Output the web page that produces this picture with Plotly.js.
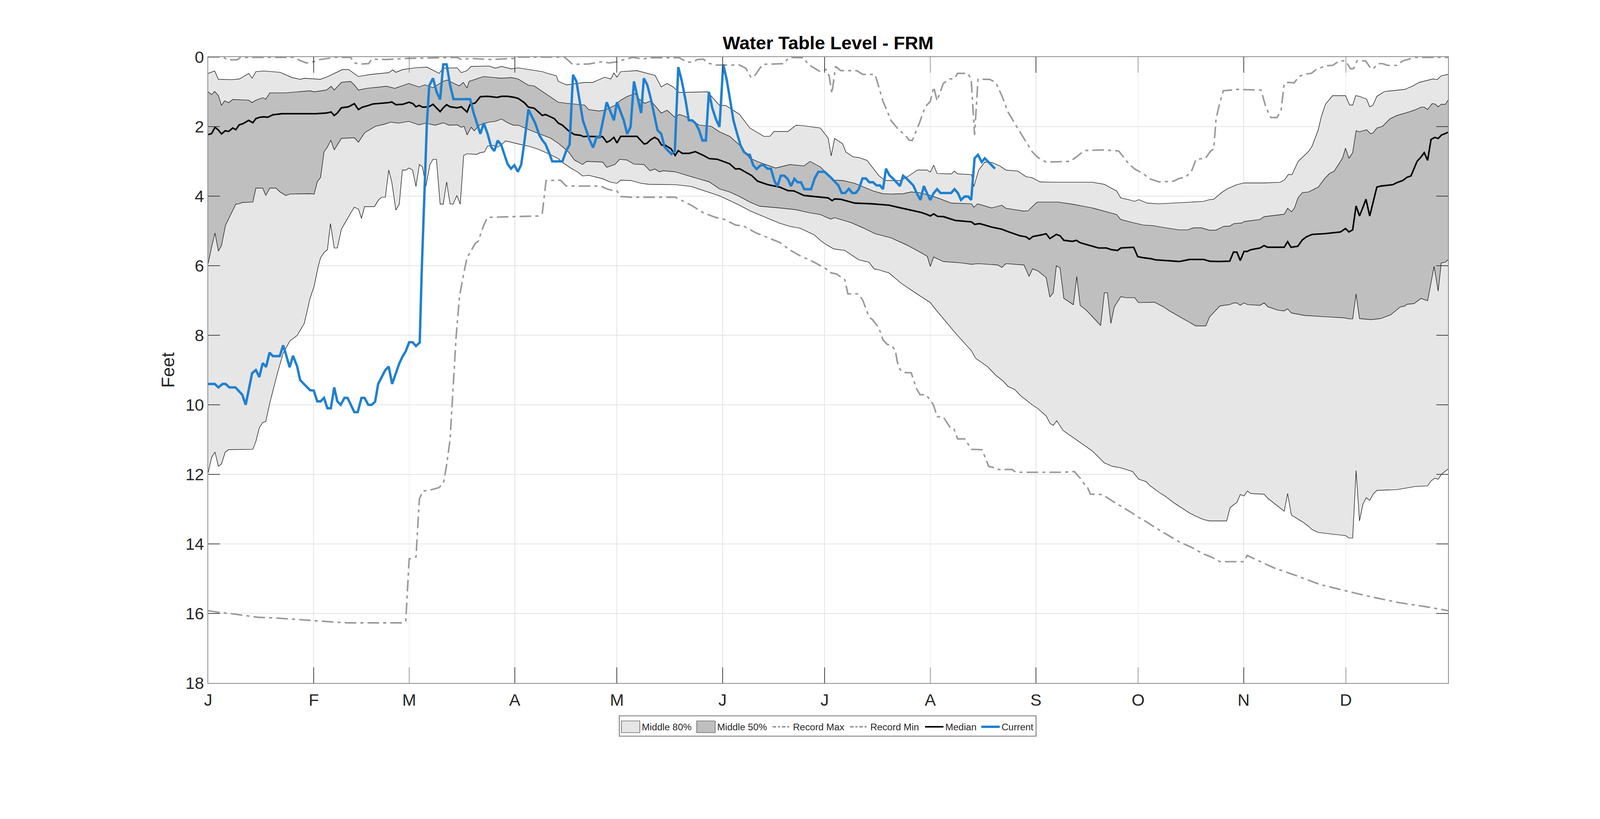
<!DOCTYPE html>
<html>
<head>
<meta charset="utf-8">
<script src="https://cdn.plot.ly/plotly-3.0.1.min.js"></script>
<style>
  html, body { margin: 0; padding: 0; background: #fff; overflow: hidden; }
</style>
</head>
<body>
<div id="chart"></div>
<script>
// x = day of year (0 = Jan 1), y = depth to water table in feet
const monthTicks = [0, 31, 59, 90, 120, 151, 181, 212, 243, 273, 304, 334];
const monthLabels = ['J', 'F', 'M', 'A', 'M', 'J', 'J', 'A', 'S', 'O', 'N', 'D'];
const feetTicks = [0, 2, 4, 6, 8, 10, 12, 14, 16, 18];

// 10th percentile (top of Middle 80%)
const p10 = [[0,0.47],[1.9,0.40],[3.0,0.64],[6.9,0.65],[9.2,0.63],[11.9,0.47],[12.9,0.61],[14.0,0.42],[16.3,0.40],[21.1,0.44],
  [24.6,0.59],[27.0,0.64],[28.2,0.61],[32.9,0.64],[34.7,0.58],[37.0,0.47],[39.4,0.36],[41.2,0.36],[44.1,0.56],[47.7,0.50],
  [53.0,0.45],[54.2,0.37],[55.1,0.44],[57.1,0.36],[60.7,0.31],[64.2,0.29],[67.8,0.47],[69.0,0.32],[73.1,0.31],[74.3,0.45],
  [76.0,0.39],[77.2,0.27],[82.5,0.26],[84.3,0.32],[86.1,0.27],[89.0,0.34],[91.0,0.31],[98.1,0.42],[99.3,0.46],[102.2,0.54],
  [102.8,0.70],[105.2,0.80],[110.5,0.73],[112.9,0.73],[116.4,0.58],[118.2,0.63],[119.1,0.46],[120.0,0.58],[121.1,0.42],[125.9,0.39],
  [131.2,0.53],[133.0,0.86],[134.7,0.76],[136.5,0.86],[138.3,1.02],[146.6,1.00],[150.1,1.39],[151.9,1.39],[156.0,1.65],[159.0,2.04],
  [163.1,2.28],[164.9,2.28],[166.1,2.14],[170.2,2.14],[172.6,1.96],[174.3,1.97],[179.7,2.04],[182.0,2.33],[182.9,2.84],[183.9,2.34],
  [186.3,2.50],[187.2,2.73],[189.3,2.87],[191.0,2.89],[193.4,2.97],[196.9,3.41],[198.7,3.55],[203.4,3.55],[205.8,3.41],[208.2,3.25],
  [211.1,3.25],[212.0,3.31],[213.0,3.11],[214.0,3.35],[218.2,3.36],[219.1,3.28],[220.0,3.36],[224.1,3.38],[224.8,3.72],[226.2,3.25],
  [228.0,3.02],[230.0,3.03],[232.4,3.13],[234.2,3.25],[237.7,3.28],[240.1,3.44],[241.9,3.47],[244.2,3.59],[247.8,3.60],[259.6,3.60],
  [263.1,3.66],[265.5,3.79],[266.7,3.85],[267.9,4.05],[270.2,4.10],[272.0,4.15],[273.2,4.10],[275.7,4.20],[279.2,4.22],[285.1,4.19],
  [292.2,4.15],[294.0,4.10],[295.2,4.09],[297.5,3.90],[299.0,3.80],[302.0,3.67],[304.1,3.62],[310.0,3.62],[314.7,3.60],[315.9,3.54],
  [317.1,3.38],[318.2,3.38],[320.0,3.00],[323.0,2.72],[324.1,2.56],[325.9,2.09],[326.8,1.71],[328.0,1.36],[330.1,1.11],[333.9,1.11],
  [335.1,1.38],[336.0,1.38],[336.9,1.11],[338.0,1.13],[340.1,1.21],[341.0,1.43],[341.9,1.39],[343.1,1.13],[345.4,0.99],[351.3,0.93],
  [353.7,0.83],[355.5,0.73],[359.6,0.63],[360.8,0.65],[362.0,0.54],[364,0.50]];

// 90th percentile (bottom of Middle 80%)
const p90 = [[0,11.95],[1.0,11.51],[2.0,11.36],[3.0,11.77],[3.9,11.70],[5.0,11.36],[6.0,11.29],[13.1,11.28],[14.0,11.05],[15.0,10.66],
  [16.0,10.51],[16.9,10.48],[18.1,9.94],[19.3,9.47],[20.5,9.03],[22.0,8.52],[24.0,8.16],[26.1,8.01],[28.2,7.66],[29.9,6.94],
  [31.1,6.59],[32.3,6.02],[33.0,5.77],[34.1,5.61],[35.0,5.54],[35.9,4.79],[37.0,5.49],[37.9,5.49],[39.1,4.95],[41.8,4.49],
  [42.9,4.32],[44.1,4.37],[45.0,4.64],[45.9,4.30],[48.8,4.30],[50.0,4.11],[50.9,4.03],[52.0,4.03],[53.0,3.25],[53.9,3.60],
  [55.1,4.40],[56.1,4.23],[57.0,3.25],[58.0,3.25],[59.0,3.19],[60.0,3.25],[61.0,3.72],[62.0,3.09],[62.9,3.16],[63.9,3.72],
  [65.1,3.09],[66.0,2.94],[67.0,2.94],[68.1,4.23],[69.0,4.23],[70.0,3.59],[71.0,4.22],[71.9,4.23],[73.0,3.98],[74.0,4.23],
  [75.0,2.83],[76.0,2.78],[78.7,2.80],[79.9,2.75],[81.1,2.73],[82.0,2.56],[83.7,2.54],[84.9,2.59],[86.1,2.52],[87.3,2.41],
  [90.2,2.48],[91.9,2.52],[94.0,2.56],[96.9,2.65],[99.9,2.78],[102.8,2.92],[104.0,3.03],[106.4,3.19],[108.7,3.32],[109.9,3.42],
  [111.7,3.40],[115.8,3.50],[118.2,3.60],[120.0,3.63],[121.1,3.54],[124.1,3.55],[127.1,3.63],[129.4,3.66],[137.1,3.67],[141.8,3.72],
  [150.1,3.99],[156.0,4.26],[159.0,4.42],[163.1,4.59],[167.8,4.78],[170.8,4.87],[173.7,4.92],[176.1,5.03],[177.9,5.11],[179.7,5.27],
  [181.4,5.39],[183.7,5.52],[186.9,5.56],[191.0,5.83],[194.0,5.90],[195.5,6.09],[196.9,6.12],[199.9,6.21],[203.4,6.50],[207.6,6.78],
  [212.0,7.06],[213.5,7.25],[217.0,7.66],[219.4,7.94],[224.1,8.45],[225.3,8.66],[228.9,8.91],[231.2,9.15],[233.3,9.31],[234.8,9.47],
  [236.8,9.56],[238.3,9.72],[241.9,10.00],[243.6,10.11],[246.0,10.32],[247.2,10.54],[248.1,10.59],[249.1,10.46],[251.0,10.74],[254.9,11.01],
  [257.2,11.16],[259.6,11.33],[263.1,11.67],[265.5,11.77],[267.9,11.81],[271.4,11.92],[273.2,12.14],[275.4,12.21],[276.3,12.31],[279.2,12.52],
  [281.0,12.63],[283.4,12.81],[288.1,13.11],[289.9,13.20],[292.2,13.30],[294.0,13.34],[299.0,13.34],[300.0,12.96],[301.1,12.87],[302.0,12.81],
  [303.0,12.58],[304.1,12.62],[305.1,12.48],[306.1,12.55],[310.0,12.57],[311.1,12.69],[315.9,13.06],[316.9,12.55],[318.0,13.17],[321.2,13.36],
  [323.0,13.49],[324.1,13.59],[325.9,13.67],[328.3,13.70],[330.1,13.72],[333.9,13.76],[334.9,13.83],[336.0,13.83],[337.0,11.89],[338.0,13.34],
  [339.0,12.86],[340.0,12.67],[341.0,12.75],[342.0,12.57],[343.1,12.46],[349.0,12.44],[354.3,12.35],[358.0,12.33],[359.0,12.19],[360.1,12.11],
  [361.1,12.14],[362.1,11.99],[364,11.85]];

// 25th percentile (top of Middle 50%)
const p25 = [[0,1.00],[1.0,1.08],[1.9,0.99],[3.0,1.11],[3.9,1.39],[4.8,1.26],[6.0,1.31],[7.2,1.22],[11.9,1.24],[12.9,1.31],
  [14.0,1.24],[16.0,1.17],[16.9,1.21],[18.1,1.03],[22.8,1.03],[29.9,0.97],[31.1,1.00],[34.7,0.95],[36.1,0.84],[37.0,0.95],
  [39.1,0.73],[41.8,0.70],[42.9,0.80],[44.1,0.95],[46.5,0.90],[52.4,0.84],[54.8,0.90],[58.9,0.76],[61.9,0.86],[63.6,0.80],
  [66.0,0.88],[69.0,0.70],[70.1,0.66],[73.7,0.83],[74.9,0.73],[76.0,0.89],[76.6,0.70],[80.8,0.56],[86.1,0.61],[89.0,0.59],
  [91.0,0.63],[94.0,0.81],[95.7,0.83],[98.1,0.99],[100.5,1.14],[102.8,1.30],[105.2,1.33],[108.7,1.36],[110.5,1.38],[111.7,1.51],
  [114.6,1.55],[116.4,1.53],[119.4,1.39],[121.1,1.24],[122.9,1.14],[125.3,1.05],[126.5,1.21],[128.2,1.33],[130.0,1.26],[133.0,1.61],
  [134.7,1.53],[137.1,1.74],[138.3,1.65],[140.1,1.71],[144.2,1.96],[147.7,1.99],[150.1,2.15],[153.1,2.28],[156.0,2.53],[159.0,2.91],
  [161.9,3.03],[166.6,3.19],[170.8,3.09],[174.9,3.13],[176.7,3.00],[179.7,3.16],[182.75,3.45],[183.9,3.54],[186.3,3.55],[189.8,3.63],
  [195.2,3.85],[198.1,3.93],[200.5,3.94],[204.0,3.93],[206.4,3.88],[208.8,3.90],[212.0,3.98],[214.7,4.07],[218.2,4.20],[224.1,4.22],
  [224.8,4.32],[225.9,4.22],[228.3,4.29],[230.0,4.34],[233.0,4.26],[234.2,4.35],[239.5,4.43],[240.7,4.42],[243.0,4.20],[243.6,4.17],
  [249.5,4.17],[253.7,4.23],[259.6,4.34],[266.7,4.53],[267.9,4.67],[271.4,4.76],[274.5,4.83],[277.5,4.85],[280.4,4.90],[285.1,4.97],
  [287.5,4.97],[289.3,4.91],[291.6,4.91],[294.0,4.98],[295.8,4.98],[298.1,4.87],[299.9,4.86],[301.1,4.79],[303.5,4.77],[304.1,4.73],
  [308.8,4.67],[310.0,4.59],[315.9,4.52],[316.9,4.35],[318.1,4.45],[318.9,4.34],[320.0,4.04],[321.2,3.90],[323.0,3.88],[325.9,3.74],
  [327.7,3.50],[329.2,3.35],[330.6,3.28],[333.0,2.91],[333.9,2.62],[334.9,2.91],[336.0,2.75],[337.0,2.12],[338.0,2.15],[340.1,2.09],
  [341.2,2.20],[341.9,2.19],[343.1,2.04],[344.8,1.99],[346.9,1.78],[349.0,1.68],[352.5,1.58],[354.3,1.52],[356.1,1.44],[357.0,1.44],
  [358.0,1.51],[359.3,1.34],[360.2,1.35],[361.1,1.43],[362.0,1.36],[363.2,1.36],[364,1.24]];

// 75th percentile (bottom of Middle 50%)
const p75 = [[0,5.93],[1.0,5.46],[2.0,5.06],[3.0,5.58],[3.9,5.42],[5.1,4.83],[8.1,4.23],[9.0,4.22],[10.1,4.18],[13.1,4.17],
  [14.0,3.77],[16.0,3.77],[16.9,3.98],[18.1,3.77],[19.9,3.77],[21.1,3.88],[22.8,3.98],[24.0,3.94],[29.9,3.93],[31.1,3.94],
  [32.0,3.59],[33.0,3.46],[34.0,2.73],[35.0,2.59],[36.0,2.39],[37.0,2.67],[39.1,2.34],[42.9,2.32],[44.1,2.45],[45.9,2.18],
  [49.1,1.99],[51.8,1.93],[53.6,1.87],[55.9,1.90],[58.9,1.85],[61.9,1.95],[63.9,1.90],[66.6,1.96],[69.0,1.89],[70.7,1.96],
  [73.1,1.95],[74.3,2.02],[75.1,1.99],[76.0,2.24],[77.2,2.02],[78.1,2.12],[79.6,1.96],[82.5,1.87],[84.3,1.85],[86.1,1.78],
  [87.9,1.89],[89.6,1.96],[91.0,1.96],[95.7,2.15],[100.5,2.33],[102.8,2.48],[105.8,2.73],[107.5,2.96],[109.9,3.09],[111.1,3.00],
  [115.8,3.02],[117.0,3.17],[119.4,3.09],[120.8,2.94],[122.9,2.96],[125.0,3.08],[127.9,3.09],[129.7,3.27],[131.2,3.22],[132.4,3.30],
  [133.6,3.27],[137.1,3.30],[141.8,3.44],[147.1,3.59],[150.1,3.79],[153.1,3.88],[156.0,4.01],[159.0,4.17],[161.9,4.29],[167.8,4.34],
  [172.6,4.39],[176.1,4.47],[179.7,4.53],[182.75,4.66],[183.9,4.62],[188.7,4.76],[192.2,4.91],[195.8,5.08],[200.5,5.20],[205.2,5.41],
  [208.8,5.60],[211.1,5.73],[212.0,6.02],[213.0,5.75],[215.8,5.88],[221.2,5.92],[224.1,5.96],[225.9,5.94],[231.8,5.98],[233.0,6.05],
  [234.2,5.94],[239.5,5.98],[241.0,6.31],[242.0,6.09],[243.6,6.15],[246.0,6.34],[247.1,6.90],[248.1,6.78],[249.0,6.00],[250.1,6.07],
  [251.2,6.94],[254.0,7.12],[255.0,6.31],[256.0,7.14],[257.8,7.28],[260.2,7.53],[262.0,7.72],[263.1,6.78],[264.0,6.78],[265.0,7.66],
  [266.0,7.19],[267.9,6.89],[269.6,6.92],[272.0,6.92],[273.1,7.06],[277.8,7.05],[280.4,7.18],[282.2,7.30],[287.5,7.60],[289.9,7.73],
  [292.9,7.73],[294.0,7.47],[297.0,7.16],[298.1,7.14],[299.9,7.12],[301.1,7.07],[302.0,7.07],[303.0,7.14],[304.1,7.07],[305.2,7.12],
  [308.8,7.14],[310.0,7.07],[311.1,7.18],[314.1,7.28],[315.9,7.30],[316.9,7.24],[318.0,7.36],[321.8,7.43],[328.3,7.47],[333.6,7.50],
  [335.1,7.53],[336.0,7.53],[337.0,6.81],[338.0,7.52],[341.3,7.55],[344.2,7.52],[347.2,7.41],[348.4,7.31],[349.9,7.19],[351.3,7.16],
  [351.9,7.11],[354.0,7.09],[356.1,6.94],[358.0,7.01],[359.9,6.02],[361.1,6.73],[362.0,5.92],[363.2,5.90],[364,5.83]];

const median = [[0,2.23],[1.0,2.20],[2.0,2.02],[3.0,2.10],[3.9,2.21],[5.0,2.12],[6.0,2.14],[7.2,2.04],[8.1,2.09],[9.1,1.95],
  [10.1,1.92],[11.9,1.82],[13.1,1.89],[14.0,1.77],[15.2,1.73],[16.3,1.72],[17.5,1.73],[19.0,1.66],[21.7,1.63],[25.8,1.63],
  [31.7,1.63],[34.7,1.61],[36.1,1.58],[37.0,1.68],[37.9,1.61],[39.1,1.46],[41.2,1.43],[42.9,1.34],[44.1,1.51],[45.3,1.44],
  [46.5,1.41],[48.3,1.35],[50.6,1.33],[53.0,1.31],[53.9,1.29],[55.1,1.37],[57.1,1.36],[59.0,1.30],[60.1,1.34],[61.0,1.43],
  [61.9,1.39],[63.0,1.44],[64.8,1.43],[66.0,1.36],[68.1,1.57],[69.0,1.46],[70.0,1.37],[71.0,1.43],[73.1,1.46],[74.3,1.43],
  [76.0,1.58],[76.9,1.36],[78.4,1.32],[79.9,1.14],[82.0,1.13],[84.9,1.16],[86.1,1.13],[87.9,1.13],[89.9,1.16],[91.0,1.19],
  [92.8,1.31],[94.0,1.44],[95.7,1.47],[98.1,1.68],[99.0,1.65],[101.6,1.77],[102.8,1.90],[104.0,1.96],[105.8,2.12],[107.5,2.23],
  [109.3,2.25],[110.2,2.29],[111.1,2.28],[115.8,2.29],[117.0,2.45],[117.9,2.41],[119.1,2.31],[120.0,2.47],[121.1,2.28],[125.9,2.28],
  [127.1,2.41],[128.0,2.50],[128.8,2.48],[130.0,2.37],[131.1,2.31],[132.1,2.37],[133.1,2.53],[134.1,2.53],[135.9,2.64],[137.1,2.83],
  [138.0,2.69],[139.2,2.77],[141.2,2.77],[143.0,2.72],[145.4,2.83],[147.1,2.92],[149.5,2.94],[151.3,3.00],[153.1,3.07],[154.8,3.22],
  [156.0,3.21],[159.6,3.41],[161.3,3.57],[164.3,3.67],[167.8,3.74],[170.2,3.84],[172.0,3.85],[174.9,3.98],[176.1,3.99],[179.7,4.03],
  [182.0,4.05],[183.2,4.13],[183.9,4.08],[185.7,4.09],[189.8,4.20],[194.6,4.22],[199.9,4.26],[203.4,4.34],[206.4,4.40],[209.4,4.47],
  [211.1,4.53],[212.0,4.57],[213.0,4.51],[214.1,4.58],[215.9,4.59],[219.4,4.70],[224.1,4.74],[225.0,4.81],[226.5,4.79],[230.0,4.89],
  [233.0,4.95],[234.8,5.02],[238.3,5.14],[240.1,5.17],[241.1,5.24],[242.1,5.16],[244.8,5.11],[246.0,5.08],[247.1,5.22],[249.0,5.10],
  [250.1,5.14],[251.2,5.27],[253.7,5.30],[254.9,5.27],[256.0,5.34],[259.0,5.42],[261.4,5.49],[263.7,5.49],[265.2,5.54],[267.0,5.56],
  [267.9,5.49],[271.7,5.47],[272.9,5.74],[274.5,5.77],[276.9,5.80],[278.0,5.83],[280.4,5.85],[285.1,5.88],[288.1,5.82],[292.2,5.82],
  [294.0,5.87],[296.4,5.88],[299.9,5.87],[301.0,5.61],[302.0,5.61],[303.0,5.85],[304.1,5.59],[305.0,5.59],[306.1,5.54],[308.8,5.49],
  [310.0,5.42],[311.0,5.47],[315.9,5.47],[316.9,5.31],[317.9,5.47],[319.9,5.44],[321.2,5.26],[322.4,5.17],[324.1,5.10],[327.7,5.08],
  [332.4,5.03],[333.9,4.93],[334.9,5.03],[336.0,4.97],[337.0,4.28],[338.0,4.57],[338.9,4.35],[339.9,4.09],[341.0,4.57],[343.1,3.74],
  [344.2,3.71],[347.8,3.67],[349.0,3.61],[350.7,3.55],[351.9,3.46],[353.1,3.42],[354.9,3.00],[356.1,2.87],[357.0,2.75],[358.0,2.97],
  [359.0,2.37],[360.1,2.31],[361.1,2.34],[362.1,2.24],[363.2,2.20],[364,2.16]];

const recordMax = [[0,0.00],[4.5,0.00],[5.5,0.08],[8.5,0.08],[9.5,0.01],[25.2,0.01],[27.0,0.10],[28.8,0.17],[31.1,0.13],[32.3,0.08],
  [37.0,0.01],[41.8,0.01],[42.9,0.17],[44.7,0.20],[47.1,0.19],[48.0,0.06],[52.4,0.07],[58.3,0.04],[73.1,0.01],[74.3,0.07],
  [76.9,0.04],[83.1,0.07],[89.6,0.04],[90.2,0.00],[104.6,0.00],[107.0,0.21],[111.7,0.20],[113.5,0.17],[115.8,0.13],[117.6,0.17],
  [120.6,0.13],[121.7,0.08],[124.7,0.01],[127.6,0.06],[129.4,0.02],[138.3,0.02],[140.6,0.15],[142.4,0.14],[143.6,0.07],[145.4,0.06],
  [146.6,0.17],[148.9,0.23],[156.0,0.23],[157.8,0.32],[159.3,0.58],[160.1,0.58],[162.8,0.21],[169.0,0.19],[170.5,0.01],[174.9,0.02],
  [176.1,0.21],[179.7,0.42],[181.4,0.36],[182.3,0.54],[183.1,1.05],[184.2,0.27],[185.7,0.39],[190.4,0.39],[192.2,0.50],[195.8,0.50],
  [198.1,1.27],[200.5,1.83],[202.8,2.10],[204.6,2.24],[205.8,2.39],[206.7,2.40],[208.8,1.90],[210.5,1.43],[212.0,1.28],[213.0,0.86],
  [214.0,1.26],[215.8,0.76],[217.6,0.63],[219.1,0.62],[220.0,0.47],[223.0,0.47],[224.0,0.64],[225.0,2.24],[226.0,0.64],[229.4,0.64],
  [231.2,0.73],[233.0,1.11],[234.8,1.58],[237.1,1.96],[239.5,2.34],[241.9,2.72],[243.6,2.89],[246.0,3.02],[253.1,3.00],[254.9,2.87],
  [257.2,2.69],[262.5,2.67],[267.3,2.70],[270.2,3.06],[272.0,3.22],[274.5,3.35],[276.3,3.50],[279.2,3.59],[283.4,3.57],[285.1,3.49],
  [286.9,3.46],[288.7,3.28],[290.0,2.94],[292.8,2.91],[294.3,2.70],[295.2,2.65],[295.9,1.77],[296.8,1.39],[298.0,0.97],[300.5,0.95],
  [302.3,0.93],[305.2,0.94],[309.1,0.95],[310.6,1.47],[312.0,1.74],[313.8,1.74],[315.0,1.52],[315.9,0.76],[317.1,0.73],[318.8,0.74],
  [320.3,0.56],[321.8,0.49],[323.8,0.47],[325.3,0.36],[328.0,0.25],[330.1,0.24],[332.1,0.11],[333.9,0.11],[335.4,0.34],[336.3,0.33],
  [337.3,0.11],[339.8,0.11],[341.2,0.31],[342.0,0.34],[343.4,0.19],[344.8,0.19],[346.3,0.24],[349.0,0.24],[350.7,0.11],[352.5,0.06],
  [354.0,0.01],[364,0.01]];

const recordMin = [[0,15.92],[3.3,15.97],[6.3,16.00],[14.6,16.11],[19.9,16.13],[28.8,16.19],[34.7,16.24],[40.6,16.27],[57.1,16.27],[58.0,16.22],
  [59.0,14.43],[61.0,14.38],[62.0,12.71],[63.0,12.48],[64.8,12.46],[67.8,12.38],[69.1,12.24],[70.0,11.73],[71.0,11.01],[71.6,10.03],
  [72.2,9.09],[72.8,8.01],[73.8,6.87],[75.1,6.18],[76.0,5.77],[78.4,5.36],[79.3,5.29],[80.8,4.86],[82.0,4.61],[96.9,4.57],
  [98.1,4.48],[99.2,3.55],[103.4,3.54],[105.1,3.71],[115.2,3.71],[117.0,3.79],[118.8,3.84],[120.0,3.85],[121.1,4.01],[124.1,4.03],
  [137.1,4.03],[139.5,4.15],[141.8,4.26],[145.4,4.48],[148.9,4.61],[151.3,4.66],[154.8,4.83],[157.2,4.86],[160.7,5.05],[165.5,5.24],
  [167.8,5.33],[170.8,5.55],[173.7,5.71],[177.9,5.90],[181.4,6.09],[182.3,6.19],[184.5,6.24],[186.9,6.40],[187.8,6.81],[191.0,6.81],
  [192.2,7.00],[194.0,7.47],[195.2,7.57],[196.9,7.79],[198.1,8.13],[199.3,8.26],[200.5,8.29],[201.7,8.42],[202.3,8.76],[203.1,8.98],
  [204.0,9.07],[206.4,9.08],[207.9,9.53],[209.0,9.71],[210.8,9.71],[212.9,10.00],[214.0,10.34],[215.8,10.35],[217.9,10.66],[218.9,10.68],
  [220.0,10.98],[222.1,10.98],[224.1,11.28],[227.1,11.29],[228.3,11.55],[229.1,11.77],[230.5,11.80],[231.2,11.86],[236.0,11.86],[237.1,11.94],
  [250.7,11.94],[254.3,11.92],[256.0,12.11],[257.3,12.29],[258.1,12.36],[259.0,12.57],[262.5,12.58],[265.5,12.77],[268.4,12.94],[271.4,13.12],
  [273.5,13.26],[275.4,13.36],[278.0,13.53],[281.6,13.74],[285.1,13.94],[288.7,14.10],[292.2,14.29],[294.6,14.38],[297.0,14.51],[304.1,14.51],
  [305.0,14.33],[310.0,14.56],[312.9,14.69],[319.4,14.91],[326.5,15.17],[333.6,15.34],[339.5,15.48],[349.6,15.69],[357.2,15.80],[364,15.92]];

const current = [[0,9.40],[1.9,9.40],[3.0,9.50],[4.2,9.40],[5.1,9.40],[6.2,9.50],[8.0,9.50],[10.0,9.71],[11.0,10.00],[12.1,9.44],
  [12.9,9.09],[14.0,9.00],[15.0,9.20],[16.0,8.80],[17.0,8.91],[18.0,8.50],[19.0,8.60],[21.0,8.60],[22.0,8.29],[22.8,8.54],
  [23.9,8.92],[24.9,8.59],[26.1,8.89],[27.0,9.29],[29.9,9.58],[31.0,9.59],[32.0,9.90],[33.0,9.90],[34.0,9.80],[35.0,10.10],
  [36.0,10.10],[37.0,9.50],[37.9,9.90],[38.9,10.00],[40.0,9.80],[40.9,9.80],[41.9,10.00],[42.9,10.21],[43.9,10.21],[45.0,9.80],
  [45.9,9.80],[47.0,10.00],[48.0,10.00],[49.0,9.91],[49.9,9.40],[50.9,9.20],[52.0,9.00],[53.0,8.90],[54.0,9.40],[55.1,9.09],
  [56.1,8.81],[57.0,8.62],[58.0,8.46],[59.0,8.20],[60.0,8.20],[61.0,8.31],[62.1,8.21],[62.7,6.12],[63.6,3.60],[64.2,1.90],
  [64.9,0.82],[66.0,0.61],[67.1,1.02],[68.1,1.22],[69.0,0.21],[70.0,0.21],[71.0,0.80],[72.0,1.21],[76.9,1.21],[77.9,1.60],
  [79.9,2.21],[80.9,1.90],[82.0,2.20],[83.1,2.59],[84.0,2.70],[85.0,2.40],[86.0,2.52],[87.9,3.08],[88.9,3.21],[89.9,3.11],
  [90.9,3.30],[91.9,3.09],[92.8,2.46],[94.0,1.51],[96.0,1.90],[97.2,2.24],[98.1,2.39],[99.0,2.50],[100.0,2.73],[101.0,3.00],
  [104.0,3.00],[105.1,2.70],[106.1,2.52],[107.1,0.51],[108.1,0.70],[110.0,1.82],[112.0,2.39],[113.0,2.60],[114.0,2.31],[114.9,2.31],
  [117.0,1.30],[119.1,1.82],[120.0,1.30],[121.0,1.58],[122.0,1.82],[123.0,2.21],[124.0,2.01],[125.0,0.70],[126.0,1.16],[127.1,1.61],
  [127.9,0.61],[128.9,0.80],[130.0,1.22],[131.9,2.10],[133.0,2.21],[134.0,2.59],[135.0,2.69],[136.0,2.79],[137.0,2.70],[138.0,0.29],
  [139.0,0.67],[140.1,1.22],[141.1,1.82],[142.1,1.82],[143.1,1.91],[144.1,2.10],[145.1,2.40],[146.1,2.40],[147.0,1.00],[148.0,1.47],
  [149.0,1.77],[150.1,2.01],[151.2,0.21],[152.2,0.64],[153.2,1.22],[154.2,1.82],[155.3,2.21],[156.3,2.54],[157.3,2.73],[158.4,2.81],
  [159.0,2.81],[160.0,3.11],[161.0,3.22],[162.2,3.11],[163.1,3.11],[164.2,3.21],[165.2,3.21],[166.2,3.55],[167.1,3.72],[168.1,3.41],
  [169.1,3.41],[170.1,3.50],[171.1,3.71],[172.1,3.50],[173.0,3.60],[174.0,3.60],[175.0,3.80],[177.0,3.80],[178.0,3.50],[179.1,3.30],
  [181.0,3.30],[182.75,3.46],[185.0,3.69],[186.0,3.91],[187.0,3.91],[188.1,3.79],[189.1,3.91],[190.1,3.91],[191.0,3.80],[192.1,3.49],
  [193.1,3.49],[194.1,3.60],[195.2,3.60],[196.2,3.69],[197.2,3.69],[198.1,3.80],[199.0,3.21],[200.0,3.40],[201.1,3.50],[203.1,3.71],
  [204.0,3.41],[205.1,3.50],[207.0,3.69],[208.0,3.91],[209.1,4.11],[210.1,3.71],[211.0,3.91],[212.0,4.11],[213.0,3.91],[214.0,3.80],
  [215.0,3.91],[218.1,3.91],[219.1,3.80],[220.1,3.91],[221.0,4.11],[222.1,4.01],[223.1,4.01],[224.0,4.11],[225.0,2.91],[226.0,2.81],
  [227.1,3.02],[228.0,2.91],[231.0,3.21]];

// the layout is designed on a 5375 x 2096 canvas and stretched to fill the window
const W = window.innerWidth || 5375;
const H = window.innerHeight || 2096;
const sx = W / 5375, sy = H / 2096;
const sf = Math.sqrt(sx * sy);
const k = v => v * sf;
document.getElementById('chart').style.width = W + 'px';
document.getElementById('chart').style.height = H + 'px';

const days = d => d.map(p => p[0]);
const feet = d => d.map(p => p[1]);

const edge = { color: '#1a1a1a', width: k(1.6) };
const recordDash = [34, 12, 9, 12].map(v => k(v) + 'px').join(',');
const legendDash = [12, 6, 7, 6].map(v => (v * sx) + 'px').join(',');

const traces = [
  { x: days(p10), y: feet(p10), mode: 'lines', line: edge, hoverinfo: 'skip' },
  { x: days(p90), y: feet(p90), mode: 'lines', line: edge, fill: 'tonexty', fillcolor: '#e6e6e6', name: 'Middle 80%' },
  { x: days(p25), y: feet(p25), mode: 'lines', line: edge, hoverinfo: 'skip' },
  { x: days(p75), y: feet(p75), mode: 'lines', line: edge, fill: 'tonexty', fillcolor: '#bfbfbf', name: 'Middle 50%' },
  { x: days(recordMax), y: feet(recordMax), mode: 'lines', name: 'Record Max',
    line: { color: '#999999', width: k(4.5), dash: recordDash } },
  { x: days(recordMin), y: feet(recordMin), mode: 'lines', name: 'Record Min',
    line: { color: '#999999', width: k(4.5), dash: recordDash } },
  { x: days(median), y: feet(median), mode: 'lines', name: 'Median',
    line: { color: '#000000', width: k(4.5) } },
  { x: days(current), y: feet(current), mode: 'lines', name: 'Current',
    line: { color: '#1f80d0', width: k(7) } }
];

// plot area on the design canvas
const plotL = 699, plotR = 4864, plotT = 146, plotB = 1748;
const px = v => (v - plotL) / (plotR - plotL);
const py = v => (plotB - v) / (plotB - plotT);

// legend drawn as a box under the axes, like the original figure
const legendItems = [
  { name: 'Middle 80%', kind: 'box', color: '#e6e6e6', x0: 2087, tx: 2153 },
  { name: 'Middle 50%', kind: 'box', color: '#bfbfbf', x0: 2340, tx: 2406 },
  { name: 'Record Max', kind: 'dash', color: '#999999', x0: 2595, tx: 2661 },
  { name: 'Record Min', kind: 'dash', color: '#999999', x0: 2855, tx: 2921 },
  { name: 'Median', kind: 'line', color: '#000000', x0: 3107, tx: 3173 },
  { name: 'Current', kind: 'line', color: '#1f80d0', x0: 3296, tx: 3362 }
];
const legY = 1860;
const shapes = [{
  type: 'rect', xref: 'paper', yref: 'paper', layer: 'above',
  x0: px(2080), x1: px(3480), y0: py(1832), y1: py(1884),
  fillcolor: '#ffffff', line: { color: '#8c8c8c', width: k(3) }
}];
const annotations = [];
legendItems.forEach(it => {
  if (it.kind === 'box') {
    shapes.push({
      type: 'rect', xref: 'paper', yref: 'paper', layer: 'above',
      x0: px(it.x0), x1: px(it.x0 + 62), y0: py(legY - 15), y1: py(legY + 15),
      fillcolor: it.color, line: { color: '#6e6e6e', width: k(2) }
    });
  } else {
    shapes.push({
      type: 'line', xref: 'paper', yref: 'paper', layer: 'above',
      x0: px(it.x0), x1: px(it.x0 + 62), y0: py(legY), y1: py(legY),
      line: { color: it.color, width: k(it.name === 'Current' ? 7 : 4.5),
              dash: it.kind === 'dash' ? legendDash : 'solid' }
    });
  }
  annotations.push({
    text: it.name, xref: 'paper', yref: 'paper', x: px(it.tx), y: py(legY),
    xanchor: 'left', yanchor: 'middle', showarrow: false,
    font: { size: 32 * Math.min(sx, sf), color: '#262626' }
  });
});

const axisStyle = {
  showline: true, linecolor: '#8a8a8a', linewidth: k(2.5), mirror: 'ticks',
  tickwidth: k(2), tickcolor: '#444444', ticks: 'inside',
  showgrid: true, gridcolor: '#e4e4e4', gridwidth: k(2), zeroline: false,
  tickfont: { size: k(49), color: '#262626' }
};

const layout = {
  width: W, height: H,
  paper_bgcolor: '#ffffff', plot_bgcolor: '#ffffff',
  font: { family: 'Liberation Sans, Arial, sans-serif', color: '#262626' },
  margin: { l: plotL * sx, r: W - plotR * sx, t: plotT * sy, b: H - plotB * sy, pad: 0 },
  showlegend: false,
  title: {
    text: '<b>Water Table Level - FRM</b>',
    font: { size: k(54), color: '#000000' },
    x: 0.5, xref: 'paper', y: 1 - 110 / 2096, yref: 'container', yanchor: 'middle'
  },
  xaxis: Object.assign({}, axisStyle, {
    range: [0, 364], tickmode: 'array', tickvals: monthTicks, ticktext: monthLabels,
    ticklen: 40 * sy, ticklabelstandoff: 4 * sy
  }),
  yaxis: Object.assign({}, axisStyle, {
    range: [18, 0], tickmode: 'array', tickvals: feetTicks,
    ticklen: 40 * sx, ticklabelstandoff: 6 * sx,
    title: { text: 'Feet', font: { size: k(52), color: '#262626' }, standoff: 18 * sx }
  }),
  shapes: shapes,
  annotations: annotations
};

Plotly.newPlot('chart', traces, layout, { staticPlot: true, displayModeBar: false });
</script>
</body>
</html>
